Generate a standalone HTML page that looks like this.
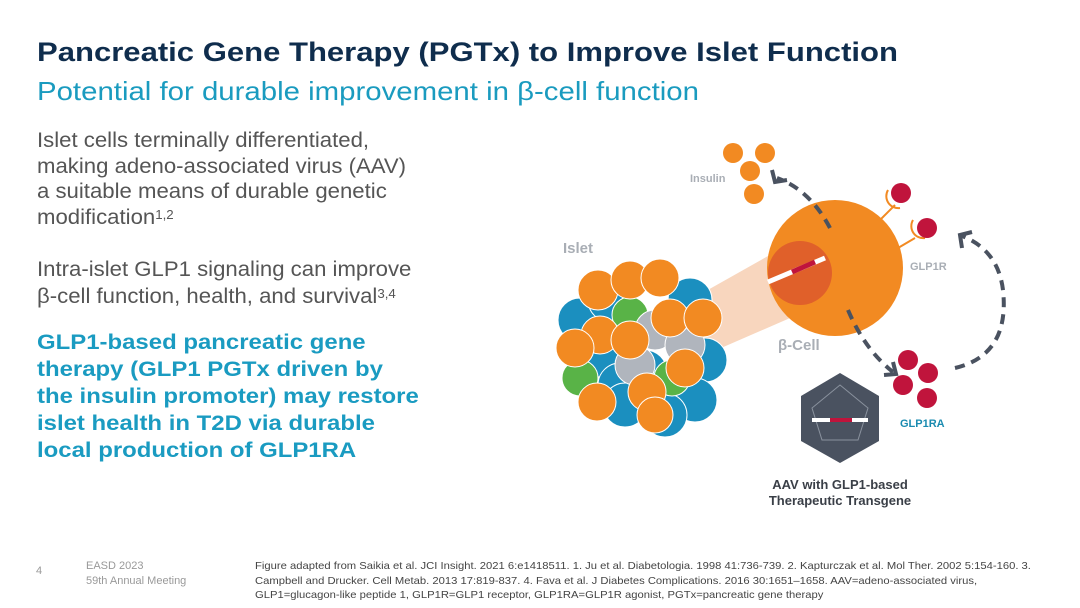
<!DOCTYPE html>
<html><head><meta charset="utf-8"><style>
body{margin:0;width:1080px;height:608px;background:#fff;font-family:"Liberation Sans",sans-serif;position:relative;overflow:hidden}
.t{position:absolute;white-space:nowrap;transform-origin:0 0}
sup{font-size:60%;vertical-align:top;position:relative;top:-2px}
</style></head><body>
<div class="t" style="left:37px;top:37px;font-size:27px;font-weight:bold;color:#0f2d4d;transform:scaleX(1.15)">Pancreatic Gene Therapy (PGTx) to Improve Islet Function</div>
<div class="t" style="left:37px;top:76px;font-size:26px;color:#1a9bbf;transform:scaleX(1.13)">Potential for durable improvement in β-cell function</div>
<div class="t" style="left:37px;top:128px;font-size:21px;line-height:25.5px;color:#555;transform:scaleX(1.055)">Islet cells terminally differentiated,<br>making adeno-associated virus (AAV)<br>a suitable means of durable genetic<br>modification<sup>1,2</sup></div>
<div class="t" style="left:37px;top:256px;font-size:21px;line-height:27px;color:#555;transform:scaleX(1.055)">Intra-islet GLP1 signaling can improve<br>β-cell function, health, and survival<sup>3,4</sup></div>
<div class="t" style="left:37px;top:329px;font-size:21px;line-height:27px;font-weight:bold;color:#1a9bc1;transform:scaleX(1.14)">GLP1-based pancreatic gene<br>therapy (GLP1 PGTx driven by<br>the insulin promoter) may restore<br>islet health in T2D via durable<br>local production of GLP1RA</div>

<svg style="position:absolute;left:0;top:0" width="1080" height="608">
<polygon points="690,300 800,238 820,305 705,355" fill="#f8d6be"/>
<g stroke="#fff" stroke-width="1">
<circle cx="580" cy="320" r="22" fill="#1b8fbf"/><circle cx="610" cy="300" r="22" fill="#1b8fbf"/>
<circle cx="690" cy="300" r="22" fill="#1b8fbf"/><circle cx="705" cy="360" r="22" fill="#1b8fbf"/>
<circle cx="600" cy="355" r="22" fill="#1b8fbf"/><circle cx="695" cy="400" r="22" fill="#1b8fbf"/>
<circle cx="645" cy="372" r="22" fill="#1b8fbf"/><circle cx="620" cy="385" r="22" fill="#1b8fbf"/>
<circle cx="665" cy="415" r="22" fill="#1b8fbf"/><circle cx="625" cy="405" r="22" fill="#1b8fbf"/>
<circle cx="630" cy="315" r="18" fill="#59b347"/><circle cx="580" cy="378" r="18" fill="#59b347"/>
<circle cx="672" cy="378" r="18" fill="#59b347"/>
<circle cx="655" cy="330" r="20" fill="#b0b5bd"/><circle cx="685" cy="345" r="20" fill="#b0b5bd"/>
<circle cx="635" cy="365" r="20" fill="#b0b5bd"/>
<g fill="#f28a22">
<circle cx="598" cy="290" r="20"/><circle cx="630" cy="280" r="19"/><circle cx="660" cy="278" r="19"/>
<circle cx="670" cy="318" r="19"/><circle cx="703" cy="318" r="19"/><circle cx="600" cy="335" r="19"/>
<circle cx="630" cy="340" r="19"/><circle cx="575" cy="348" r="19"/><circle cx="685" cy="368" r="19"/>
<circle cx="647" cy="392" r="19"/><circle cx="597" cy="402" r="19"/><circle cx="655" cy="415" r="18"/>
</g></g>
<circle cx="835" cy="268" r="68" fill="#f28a22"/>
<circle cx="800" cy="273" r="32" fill="#e0602a"/>
<line x1="768" y1="282" x2="825" y2="258" stroke="#fff" stroke-width="5"/>
<line x1="792" y1="272" x2="815" y2="262" stroke="#c0143c" stroke-width="5"/>
<g fill="#f28a22"><circle cx="733" cy="153" r="10"/><circle cx="765" cy="153" r="10"/><circle cx="750" cy="171" r="10"/><circle cx="754" cy="194" r="10"/></g>
<g stroke="#f28a22" stroke-width="2" fill="none"><line x1="880" y1="220" x2="895" y2="205"/><line x1="898" y1="248" x2="915" y2="238"/>
<path d="M888,190 a12,12 0 0 0 12,18"/><path d="M913,220 a12,12 0 0 0 12,18"/></g>
<g fill="#c0143c"><circle cx="901" cy="193" r="10"/><circle cx="927" cy="228" r="10"/>
<circle cx="908" cy="360" r="10"/><circle cx="928" cy="373" r="10"/><circle cx="903" cy="385" r="10"/><circle cx="927" cy="398" r="10"/></g>
<g stroke="#4a5260" stroke-width="4" fill="none" stroke-dasharray="10,7">
<path d="M830,228 Q810,190 777,178"/><path d="M848,310 Q865,350 893,372"/>
<path d="M955,368 Q1010,355 1003,290 Q998,250 962,236"/></g>
<g stroke="#4a5260" stroke-width="4" fill="none"><path d="M772,170 L775,182 L787,180"/><path d="M884,375 L896,374 L893,362"/><path d="M962,248 L960,235 L972,232"/></g>
<polygon points="840,373 879,396 879,441 840,463 801,441 801,396" fill="#4a5260"/>
<g stroke="#8a929e" stroke-width="1" fill="none"><polygon points="840,385 868,408 858,440 822,440 812,408"/></g>
<line x1="812" y1="420" x2="868" y2="420" stroke="#fff" stroke-width="4"/><line x1="830" y1="420" x2="852" y2="420" stroke="#c0143c" stroke-width="4"/>
<g font-family="Liberation Sans,sans-serif" font-weight="bold">
<text x="690" y="182" font-size="11" fill="#a9aeb5">Insulin</text>
<text x="563" y="253" font-size="15" fill="#a9aeb5">Islet</text>
<text x="910" y="270" font-size="11" fill="#a9aeb5">GLP1R</text>
<text x="778" y="350" font-size="15" fill="#a9aeb5">β-Cell</text>
<text x="900" y="427" font-size="11" fill="#1a8bb0">GLP1RA</text>
<text x="840" y="489" font-size="13" fill="#3a3f47" text-anchor="middle">AAV with GLP1-based</text>
<text x="840" y="505" font-size="13" fill="#3a3f47" text-anchor="middle">Therapeutic Transgene</text>
</g></svg>

<div class="t" style="left:36px;top:565px;font-size:11px;color:#999">4</div>
<div class="t" style="left:86px;top:559px;font-size:11px;line-height:15px;color:#999">EASD 2023<br>59th Annual Meeting</div>
<div class="t" style="left:255px;top:559px;font-size:10.5px;line-height:14.5px;color:#444;transform:scaleX(1.07)">Figure adapted from Saikia et al. JCI Insight. 2021 6:e1418511. 1. Ju et al. Diabetologia. 1998 41:736-739. 2. Kapturczak et al. Mol Ther. 2002 5:154-160. 3.<br>Campbell and Drucker. Cell Metab. 2013 17:819-837. 4. Fava et al. J Diabetes Complications. 2016 30:1651–1658. AAV=adeno-associated virus,<br>GLP1=glucagon-like peptide 1, GLP1R=GLP1 receptor, GLP1RA=GLP1R agonist, PGTx=pancreatic gene therapy</div>
</body></html>
